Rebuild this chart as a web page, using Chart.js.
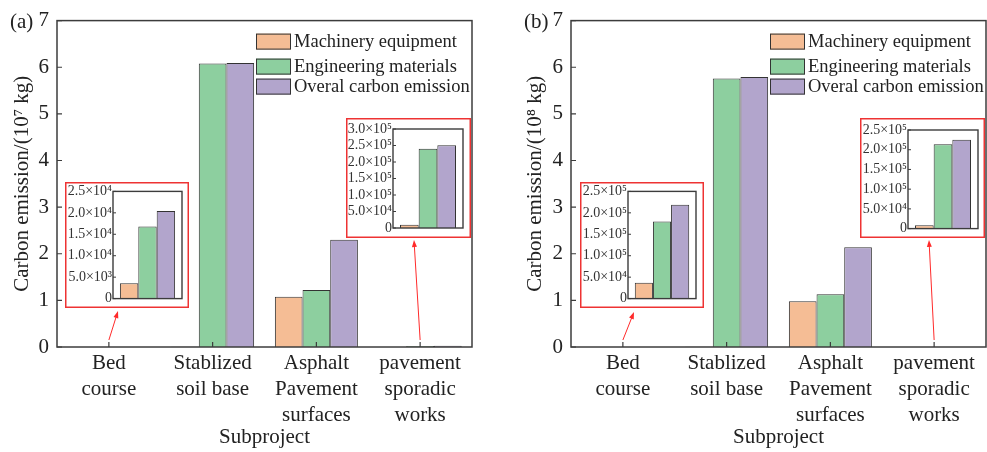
<!DOCTYPE html>
<html>
<head>
<meta charset="utf-8">
<script src="https://cdn.jsdelivr.net/npm/chart.js@4.4.0/dist/chart.umd.min.js"></script>
<style>
html,body{margin:0;padding:0;background:#fff;}
#wrap{position:relative;width:987px;height:452px;overflow:hidden;background:#fff;}
canvas{position:absolute;display:block;}
.inset{background:#fff;}
</style>
</head>
<body>
<div id="wrap">
  <canvas id="mainA" width="494" height="452" style="left:0;top:0;width:494px;height:452px"></canvas>
  <canvas id="mainB" width="493" height="452" style="left:494px;top:0;width:493px;height:452px"></canvas>
  <canvas id="insA1" class="inset" width="124" height="126" style="left:65px;top:182px;width:124px;height:126px"></canvas>
  <canvas id="insA2" class="inset" width="125" height="120" style="left:346px;top:118px;width:125px;height:120px"></canvas>
  <canvas id="insB1" class="inset" width="124" height="126" style="left:580px;top:182px;width:124px;height:126px"></canvas>
  <canvas id="insB2" class="inset" width="125" height="120" style="left:860px;top:118px;width:125px;height:120px"></canvas>
</div>
<script>
// ---------------- DATA ----------------
const subprojects = [["Bed","course"],["Stablized","soil base"],["Asphalt","Pavement","surfaces"],["pavement","sporadic","works"]];
const seriesNames = ["Machinery equipment","Engineering materials","Overal carbon emission"];
const seriesColors = ["#F5BD95","#8DCF9F","#B2A5CC"];

// Panel (a), unit 10^7 kg
const aMachinery   = [0.00036, 0.005, 1.08, 0.001];
const aEngineering = [0.00168, 6.08, 1.22, 0.024];
const aOverall     = [0.00204, 6.09, 2.30, 0.025];
// Panel (b), unit 10^8 kg
const bMachinery   = [0.00037, 0.005, 0.98, 0.00009];
const bEngineering = [0.00180, 5.76, 1.13, 0.00214];
const bOverall     = [0.00219, 5.79, 2.14, 0.00225];
const mainYTicks = [0,1,2,3,4,5,6,7];

// Insets (kg): [machinery, engineering, overall]
const insetA1 = [3.6e3, 1.68e4, 2.04e4];   // (a) Bed course
const insetA2 = [1.0e4, 2.40e5, 2.51e5];   // (a) pavement sporadic works
const insetB1 = [3.7e4, 1.80e5, 2.19e5];   // (b) Bed course
const insetB2 = [8.5e3, 2.14e5, 2.25e5];   // (b) pavement sporadic works
const insetA1Ticks = ["0","5.0×10³","1.0×10⁴","1.5×10⁴","2.0×10⁴","2.5×10⁴"];
const insetA2Ticks = ["0","5.0×10⁴","1.0×10⁵","1.5×10⁵","2.0×10⁵","2.5×10⁵","3.0×10⁵"];
const insetB1Ticks = ["0","5.0×10⁴","1.0×10⁵","1.5×10⁵","2.0×10⁵","2.5×10⁵"];
const insetB2Ticks = ["0","5.0×10⁴","1.0×10⁵","1.5×10⁵","2.0×10⁵","2.5×10⁵"];
const insetA1Max = 2.5e4, insetA2Max = 3.0e5, insetB1Max = 2.5e5, insetB2Max = 2.5e5;

// ---------------- STYLE ----------------
const FAM = '"Liberation Serif","Times New Roman","DejaVu Serif",serif';
const TXT = '#222';
const FRAME = '#3c3c3c';
const BARLINE = '#333';
const RED = '#ee3333';
Chart.defaults.font.family = FAM;
Chart.defaults.color = TXT;

const mainDecor = {
  id: 'mainDecor',
  afterDraw(chart, args, o) {
    const {ctx, chartArea: a, scales: {x, y}} = chart;
    ctx.save();
    ctx.strokeStyle = FRAME; ctx.lineWidth = 1.5;
    ctx.strokeRect(a.left, a.top, a.right - a.left, a.bottom - a.top);
    ctx.lineWidth = 1.2;
    ctx.beginPath();
    y.ticks.forEach(t => { const py = y.getPixelForValue(t.value); ctx.moveTo(a.left, py); ctx.lineTo(a.left + 5, py); });
    x.ticks.forEach((t, i) => { const px = x.getPixelForTick(i); ctx.moveTo(px, a.bottom); ctx.lineTo(px, a.bottom - 5); });
    ctx.stroke();
    // legend
    const bx = a.right - 216, rows = [21, 46, 66];
    ctx.font = '18.5px ' + FAM; ctx.textBaseline = 'middle'; ctx.textAlign = 'left';
    chart.data.datasets.forEach((ds, i) => {
      const cy = a.top + rows[i];
      ctx.fillStyle = ds.backgroundColor;
      ctx.fillRect(bx, cy - 8, 35, 16);
      ctx.strokeStyle = BARLINE; ctx.lineWidth = 1;
      ctx.strokeRect(bx + 0.5, cy - 8 + 0.5, 34, 15);
      ctx.fillStyle = TXT;
      ctx.fillText(ds.label, bx + 38, cy + 1);
    });
    // panel tag
    ctx.font = '21px ' + FAM; ctx.fillStyle = TXT;
    ctx.fillText(o.tag, a.left - 47, a.top + 2);
    // arrows
    ctx.strokeStyle = '#ff2a2a'; ctx.fillStyle = '#ff2a2a'; ctx.lineWidth = 1;
    o.arrows.forEach(ar => {
      const sx = x.getPixelForTick(ar.cat), sy = a.bottom - 7;
      const [ex, ey] = ar.end;
      const ang = Math.atan2(ey - sy, ex - sx);
      ctx.beginPath(); ctx.moveTo(sx, sy); ctx.lineTo(ex - 5 * Math.cos(ang), ey - 5 * Math.sin(ang)); ctx.stroke();
      ctx.beginPath();
      ctx.moveTo(ex, ey);
      ctx.lineTo(ex - 7 * Math.cos(ang) + 2.5 * Math.sin(ang), ey - 7 * Math.sin(ang) - 2.5 * Math.cos(ang));
      ctx.lineTo(ex - 7 * Math.cos(ang) - 2.5 * Math.sin(ang), ey - 7 * Math.sin(ang) + 2.5 * Math.cos(ang));
      ctx.closePath(); ctx.fill();
    });
    ctx.restore();
  }
};

function makeMain(id, series, o) {
  const datasets = series.map((vals, i) => ({
    label: seriesNames[i], data: vals, backgroundColor: seriesColors[i],
    borderColor: BARLINE, borderWidth: 1, barPercentage: 1, categoryPercentage: 0.8
  }));
  return new Chart(document.getElementById(id), {
    type: 'bar',
    data: {labels: subprojects, datasets},
    options: {
      responsive: false, animation: false, devicePixelRatio: 1,
      layout: {autoPadding: false, padding: {left: o.padLeft, top: 17, right: o.padRight, bottom: 0}},
      plugins: {legend: {display: false}, tooltip: {enabled: false}, mainDecor: o},
      scales: {
        x: {
          ticks: {font: {size: 21, lineHeight: 26 / 21}, color: TXT, padding: 3, maxRotation: 0, autoSkip: false},
          grid: {display: false, drawTicks: false}, border: {display: false},
          title: {display: true, text: 'Subproject', color: TXT, font: {size: 21, lineHeight: 1.2}, padding: {top: 0, bottom: 1.5}},
          afterFit: s => { s.height = 105; }
        },
        y: {
          min: 0, max: 7,
          afterBuildTicks: s => { s.ticks = mainYTicks.map(v => ({value: v})); },
          ticks: {font: {size: 21}, color: TXT, padding: 8},
          grid: {display: false, drawTicks: false}, border: {display: false},
          title: {display: true, text: o.yTitle, color: TXT, font: {size: 21, lineHeight: 1.2}, padding: {top: 9.4, bottom: 0}},
          afterFit: s => { s.width = o.yWidth; }
        }
      }
    },
    plugins: [mainDecor]
  });
}

makeMain('mainA', [aMachinery, aEngineering, aOverall], {
  padLeft: 0, padRight: 22, yWidth: 57, tag: '(a)', yTitle: 'Carbon emission/(10⁷ kg)',
  arrows: [{cat: 0, end: [118, 311]}, {cat: 3, end: [414, 240]}]
});
makeMain('mainB', [bMachinery, bEngineering, bOverall], {
  padLeft: 19, padRight: 1, yWidth: 58, tag: '(b)', yTitle: 'Carbon emission/(10⁸ kg)',
  arrows: [{cat: 0, end: [140, 312]}, {cat: 3, end: [435, 240]}]
});

const insetDecor = {
  id: 'insetDecor',
  afterDraw(chart) {
    const {ctx, chartArea: a, scales: {y}, width, height} = chart;
    ctx.save();
    ctx.strokeStyle = FRAME; ctx.lineWidth = 1.4;
    ctx.strokeRect(a.left, a.top, a.right - a.left, a.bottom - a.top);
    ctx.lineWidth = 1;
    ctx.beginPath();
    y.ticks.forEach(t => { const py = y.getPixelForValue(t.value); ctx.moveTo(a.left, py); ctx.lineTo(a.left + 3, py); });
    ctx.stroke();
    ctx.strokeStyle = RED; ctx.lineWidth = 1.5;
    ctx.strokeRect(0.75, 0.75, width - 1.5, height - 1.5);
    ctx.restore();
  }
};

function makeInset(id, vals, tickLabels, yMax, pad) {
  const step = yMax / (tickLabels.length - 1);
  const datasets = vals.map((v, i) => ({
    label: seriesNames[i], data: [v], backgroundColor: seriesColors[i],
    borderColor: BARLINE, borderWidth: 1, barPercentage: 1, categoryPercentage: 0.8
  }));
  return new Chart(document.getElementById(id), {
    type: 'bar',
    data: {labels: [''], datasets},
    options: {
      responsive: false, animation: false, devicePixelRatio: 1,
      layout: {autoPadding: false, padding: {left: 0, top: pad[1], right: pad[2], bottom: pad[3]}},
      plugins: {legend: {display: false}, tooltip: {enabled: false}},
      scales: {
        x: {display: false},
        y: {
          min: 0, max: yMax,
          afterBuildTicks: s => { s.ticks = tickLabels.map((t, i) => ({value: i * step})); },
          ticks: {font: {size: 14}, color: '#333', padding: 1, autoSkip: false,
                  callback: (v, i) => tickLabels[i]},
          grid: {display: false, drawTicks: false}, border: {display: false},
          afterFit: s => { s.width = pad[0]; }
        }
      }
    },
    plugins: [insetDecor]
  });
}

makeInset('insA1', insetA1, insetA1Ticks, insetA1Max, [48, 9, 7, 8]);
makeInset('insA2', insetA2, insetA2Ticks, insetA2Max, [47, 11, 8, 10]);
makeInset('insB1', insetB1, insetB1Ticks, insetB1Max, [48, 9, 8, 8]);
makeInset('insB2', insetB2, insetB2Ticks, insetB2Max, [48, 12, 7, 9]);
</script>
</body>
</html>
